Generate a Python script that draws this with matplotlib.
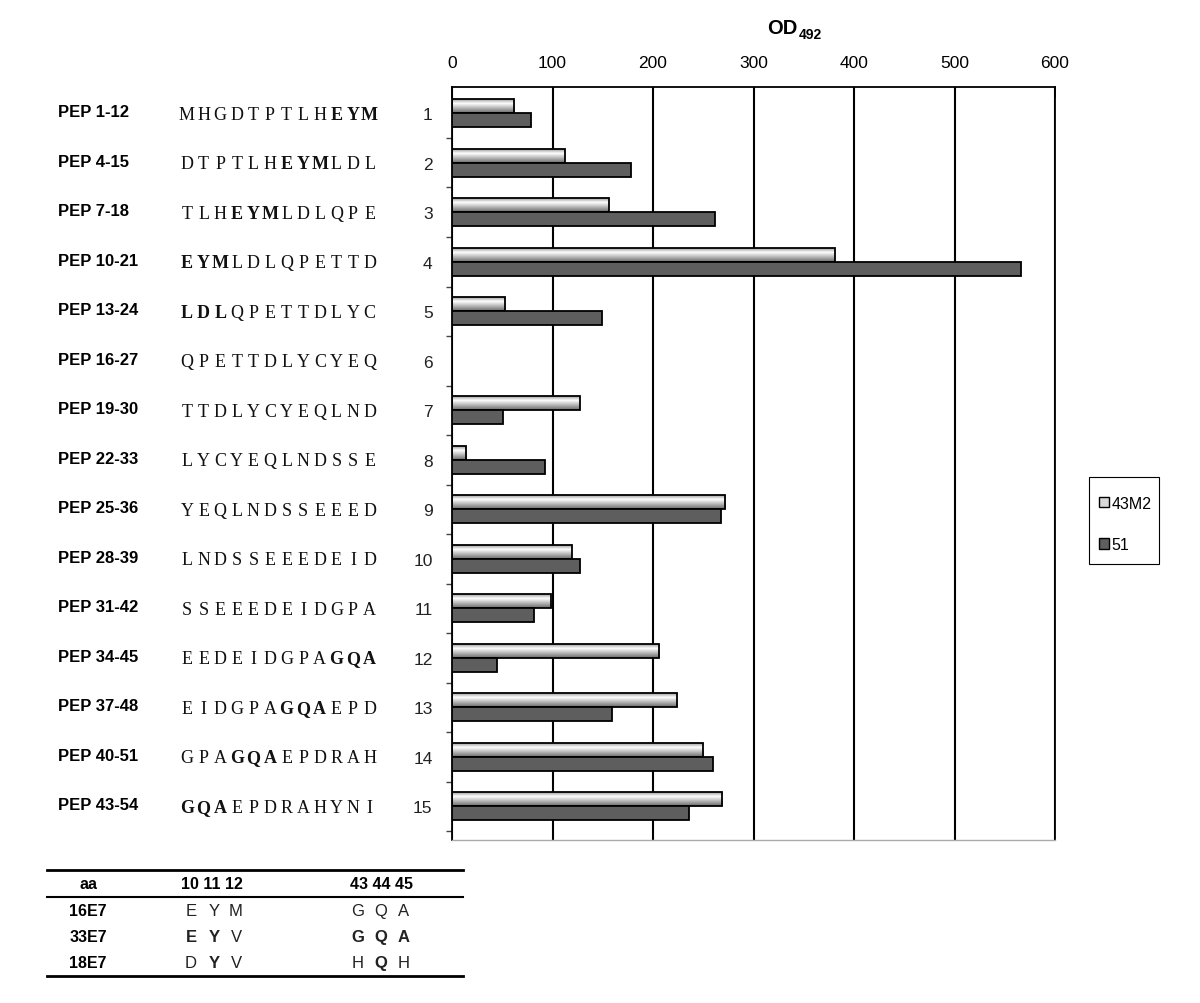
import numpy as np
import matplotlib
matplotlib.use("Agg")
import matplotlib.pyplot as plt
from matplotlib.colors import LinearSegmentedColormap
from matplotlib.patches import Patch, Rectangle
from matplotlib.lines import Line2D
from matplotlib.transforms import blended_transform_factory

plt.rcParams['font.family'] = ['Liberation Sans', 'DejaVu Sans']

# data
peptides = ["PEP 1-12", "PEP 4-15", "PEP 7-18", "PEP 10-21", "PEP 13-24",
            "PEP 16-27", "PEP 19-30", "PEP 22-33", "PEP 25-36", "PEP 28-39",
            "PEP 31-42", "PEP 34-45", "PEP 37-48", "PEP 40-51", "PEP 43-54"]
sequences = ["MHGDTPTLHEYM", "DTPTLHEYMLDL", "TLHEYMLDLQPE", "EYMLDLQPETTD",
             "LDLQPETTDLYC", "QPETTDLYCYEQ", "TTDLYCYEQLND", "LYCYEQLNDSSE",
             "YEQLNDSSEEED", "LNDSSEEEDEID", "SSEEEDEIDGPA", "EEDEIDGPAGQA",
             "EIDGPAGQAEPD", "GPAGQAEPDRAH", "GQAEPDRAHYNI"]
bold_start = [9, 6, 3, 0, 0, None, None, None, None, None, None, 9, 6, 3, 0]
numbers = [str(i) for i in range(1, 16)]

od_43m2 = [62, 112, 156, 381, 53, 0, 127, 14, 272, 119, 99, 206, 224, 250, 269]
od_51 = [79, 178, 262, 566, 149, 0, 51, 93, 268, 127, 82, 45, 159, 260, 236]

table_head = ["aa", "10 11 12", "43 44 45"]
table_rows = ["16E7", "33E7", "18E7"]
table_left = [["E", "Y", "M"], ["E", "Y", "V"], ["D", "Y", "V"]]
table_right = [["G", "Q", "A"], ["G", "Q", "A"], ["H", "Q", "H"]]
table_bold_left = [[0, 0, 0], [1, 1, 0], [0, 1, 0]]
table_bold_right = [[0, 0, 0], [1, 1, 1], [0, 1, 0]]

W, H = 1200, 1004


def fx(x):
    return x / W


def fy(y):
    return 1 - y / H


fig = plt.figure(figsize=(12, 10.04), dpi=100)
ax = fig.add_axes([fx(452), fy(841), fx(1055) - fx(452), fy(88) - fy(841)])

ypos = np.arange(len(peptides))
bh = 0.28
grad_cmap = LinearSegmentedColormap.from_list(
    "cyl", [(0, "#9c9c9c"), (0.3, "#ffffff"), (1, "#6a6a6a")])
grad = np.linspace(0, 1, 64)[:, None]

bars_top = ax.barh(ypos - bh / 2, od_43m2, height=bh, facecolor="none",
                   edgecolor="black", linewidth=1.3, zorder=3)
ax.barh(ypos + bh / 2, od_51, height=bh, facecolor="#5e5e5e",
        edgecolor="black", linewidth=1.3, zorder=3)
for bar, v in zip(bars_top, od_43m2):
    if v <= 0:
        continue
    y0 = bar.get_y()
    im = ax.imshow(grad, extent=(0, v, y0 + bh, y0), origin="upper",
                   aspect="auto", cmap=grad_cmap, zorder=2.5)
    im.set_clip_path(bar)

ax.set_xlim(0, 600)
ax.set_ylim(14.68, -0.53)

# top axis
ax.xaxis.tick_top()
ax.set_xticks(np.arange(0, 601, 100))
ax.tick_params(axis="x", direction="in", length=8, width=1.2, pad=12,
               labelsize=12.5, colors="black")
ax.grid(axis="x", color="black", linewidth=1.5)
ax.set_axisbelow(True)

# category ticks
ax.set_yticks(ypos)
ax.set_yticklabels(numbers)
ax.tick_params(axis="y", which="major", length=0, pad=14, labelsize=12.5,
               labelcolor="#222222")
ax.set_yticks(np.arange(0.5, 15, 1), minor=True)
ax.tick_params(axis="y", which="minor", direction="out", length=4, width=1,
               color="#444444")

for s in ["top", "left", "right"]:
    ax.spines[s].set_color("black")
    ax.spines[s].set_linewidth(1.3)
ax.spines["bottom"].set_color("#aaaaaa")
ax.spines["bottom"].set_linewidth(1)

# title
fig.text(fx(797), fy(28), "OD", fontsize=14.5, fontweight="bold",
         ha="right", va="center")
fig.text(fx(799), fy(35), "492", fontsize=10, fontweight="bold",
         ha="left", va="center")

# peptide names and sequences
tr = blended_transform_factory(fig.transFigure, ax.transData)
pitch = 16.6
for i, (name, seq) in enumerate(zip(peptides, sequences)):
    fig.text(fx(58), i - 0.03, name, transform=tr, fontsize=12,
             fontweight="bold", ha="left", va="center")
    b = bold_start[i]
    for j, ch in enumerate(seq):
        is_bold = b is not None and b <= j < b + 3
        fig.text(fx(187 + j * pitch), i + 0.02, ch, transform=tr,
                 family="Liberation Serif", fontsize=13,
                 fontweight="bold" if is_bold else "normal",
                 ha="center", va="center", color="#111111")

# legend, with its frame drawn separately
handles = [Patch(facecolor="#d8d8d8", edgecolor="black", linewidth=1),
           Patch(facecolor="#5e5e5e", edgecolor="black", linewidth=1)]
fig.legend(handles, ["43M2", "51"], loc="upper left",
           bbox_to_anchor=(fx(1089), fy(487)), borderaxespad=0,
           fontsize=11.5, handlelength=0.65, handleheight=0.65,
           handletextpad=0.15, labelspacing=1.65, borderpad=0.6,
           frameon=False)
fig.add_artist(Rectangle((fx(1089), fy(565)), fx(1159) - fx(1089),
                         fy(478) - fy(565), transform=fig.transFigure,
                         facecolor="none", edgecolor="black", linewidth=0.8))

# residue table
for y, lw in [(871, 2.0), (898, 1.5), (977, 2.0)]:
    fig.add_artist(Line2D([fx(47), fx(463)], [fy(y), fy(y)], color="black",
                          linewidth=lw))
fig.text(fx(88), fy(885), table_head[0], fontsize=11.5, fontweight="bold",
         ha="center", va="center")
fig.text(fx(212), fy(885), table_head[1], fontsize=11.5, fontweight="bold",
         ha="center", va="center")
fig.text(fx(381), fy(885), table_head[2], fontsize=11.5, fontweight="bold",
         ha="center", va="center")
col_left = [191, 214, 236]
col_right = [358, 381, 404]
for r, name in enumerate(table_rows):
    yy = fy(912 + r * 26)
    fig.text(fx(88), yy, name, fontsize=11.5, fontweight="bold",
             ha="center", va="center")
    for c in range(3):
        fig.text(fx(col_left[c]), yy, table_left[r][c], fontsize=12,
                 fontweight="bold" if table_bold_left[r][c] else "normal",
                 ha="center", va="center", color="#222222")
        fig.text(fx(col_right[c]), yy, table_right[r][c], fontsize=12,
                 fontweight="bold" if table_bold_right[r][c] else "normal",
                 ha="center", va="center", color="#222222")

fig.savefig("out.png", dpi=100)
